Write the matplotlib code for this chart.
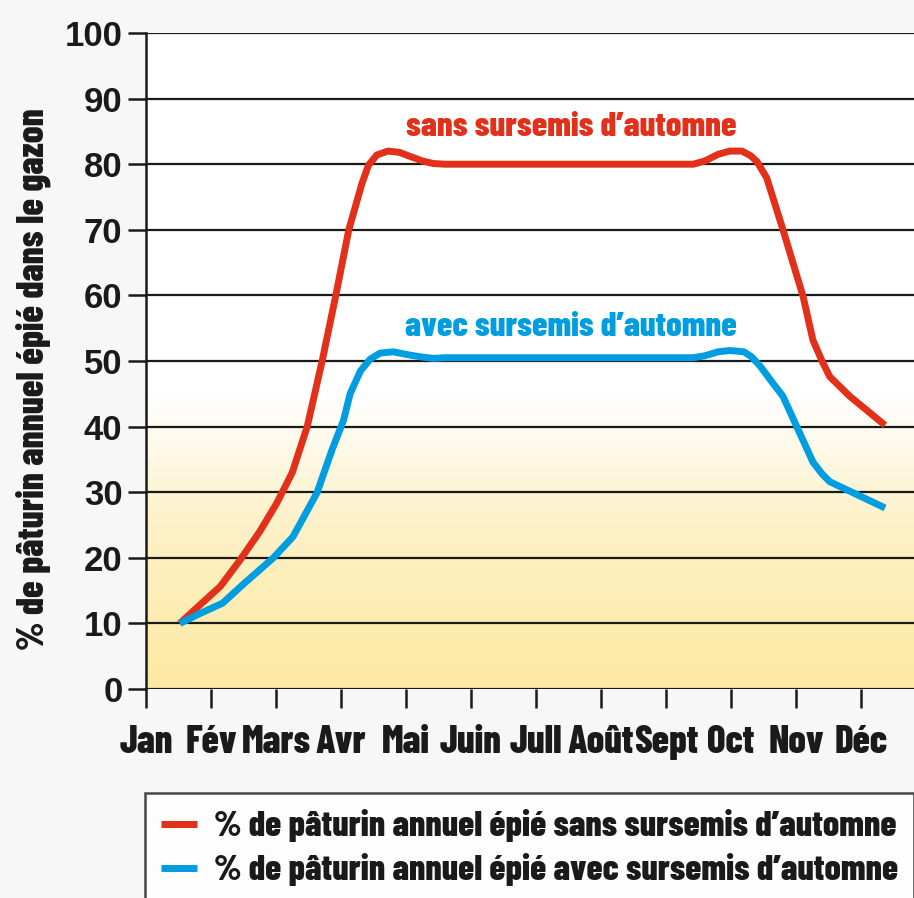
import numpy as np
import matplotlib.pyplot as plt
from matplotlib.colors import LinearSegmentedColormap

# data (x in months from the Jan tick)
months = ['Jan', 'Fév', 'Mars', 'Avr', 'Mai', 'Juin', 'Jull', 'Août', 'Sept', 'Oct', 'Nov', 'Déc']

sans_x = [0.52, 0.85, 1.14, 1.45, 1.75, 2.01, 2.25, 2.48, 2.71, 2.92, 3.12, 3.32,
          3.42, 3.55, 3.72, 3.9, 4.06, 4.25, 4.42, 4.6, 8.42, 8.6, 8.8, 8.98,
          9.17, 9.3, 9.4, 9.55, 9.8, 10.11, 10.26, 10.4, 10.52, 10.83, 11.37]
sans_y = [10, 13, 15.6, 19.7, 24, 28.3, 33, 40, 50, 60, 70, 77,
          79.8, 81.4, 82, 81.8, 81.2, 80.5, 80.1, 80, 80, 80.5, 81.5, 82,
          82, 81.3, 80.4, 77.9, 70, 59.8, 53.2, 50, 47.6, 44.6, 40.2]

avec_x = [0.52, 0.85, 1.18, 1.5, 1.96, 2.26, 2.63, 2.86, 3.04, 3.14, 3.3, 3.45,
          3.6, 3.8, 4.06, 4.25, 4.42, 4.6, 8.42, 8.6, 8.8, 8.98, 9.2, 9.32,
          9.45, 9.6, 9.8, 10.26, 10.4, 10.52, 11.37]
avec_y = [10, 11.6, 13.1, 16, 20, 23.2, 29.9, 36.4, 41, 45, 48.5, 50.3,
          51.2, 51.4, 50.9, 50.6, 50.4, 50.5, 50.5, 50.8, 51.4, 51.6, 51.4, 50.6,
          49.2, 47.2, 44.6, 34.6, 32.8, 31.6, 27.6]

red = '#e2301a'
blue = '#009ee0'
ink = '#1a1a1a'

cond = ['Barlow Condensed', 'Roboto Condensed', 'Fira Sans Condensed', 'Oswald', 'DejaVu Sans']
digits = ['Liberation Sans', 'DejaVu Sans']

fig = plt.figure(figsize=(9.14, 8.98), dpi=100, facecolor='#f7f7f7')
ax = fig.add_axes([146 / 914, 1 - 689 / 898, 1 - 146 / 914, (689 - 33) / 898])
xmax = (914 - 146) / 65.0
ax.set_xlim(0, xmax)
ax.set_ylim(0, 100)

# yellow gradient in the lower part of the plot
bg = LinearSegmentedColormap.from_list('bg', [(0, '#fee9a2'), (0.25, '#fdf1c8'),
                                              (0.45, '#ffffff'), (1, '#ffffff')])
grad = np.linspace(0, 1, 256).reshape(-1, 1)
ax.imshow(grad, extent=[0, xmax, 0, 100], origin='lower', aspect='auto', cmap=bg, zorder=0)

for y in range(0, 101, 10):
    ax.axhline(y, color=ink, lw=1.6, zorder=1)

ax.plot(sans_x, sans_y, color=red, lw=5, solid_joinstyle='round',
        solid_capstyle='butt', zorder=3,
        label='% de pâturin annuel épié sans sursemis d’automne')
ax.plot(avec_x, avec_y, color=blue, lw=5, solid_joinstyle='round',
        solid_capstyle='butt', zorder=3,
        label='% de pâturin annuel épié avec sursemis d’automne')

ax.text(6.54, 85.6, 'sans sursemis d’automne', color=red, fontsize=25, fontweight='heavy',
        family=cond, ha='center', va='center')
ax.text(6.54, 55.2, 'avec sursemis d’automne', color=blue, fontsize=25, fontweight='heavy',
        family=cond, ha='center', va='center')

for s in ['top', 'right', 'bottom']:
    ax.spines[s].set_visible(False)
ax.spines['left'].set_linewidth(1.8)
ax.spines['left'].set_color(ink)

ax.set_yticks(range(0, 101, 10))
ax.set_yticklabels([str(v) for v in range(0, 101, 10)], fontsize=25, fontweight='bold',
                   family=digits, color=ink)
ax.set_xticks(range(12))
ax.set_xticklabels(months, fontsize=28, fontweight='heavy', family=cond, color=ink)
ax.tick_params(axis='y', length=13, width=1.8, color=ink, pad=4)
ax.tick_params(axis='x', length=14, width=1.8, color=ink, pad=12)

ax.set_ylabel('% de pâturin annuel épié dans le gazon', fontsize=27, fontweight='heavy',
              family=cond, color=ink)
ax.yaxis.set_label_coords(-0.124, 0.472)

leg = fig.legend(loc='upper left', bbox_to_anchor=(145 / 914, 1 - 793 / 898),
                 prop={'family': cond, 'weight': 'heavy', 'size': 26},
                 frameon=True, fancybox=False, edgecolor=ink, facecolor='white',
                 handlelength=1.0, handletextpad=0.45, labelspacing=0.31,
                 borderpad=0.45, borderaxespad=0)
leg.get_frame().set_linewidth(1.8)
for t in leg.get_texts():
    t.set_color(ink)

fig.savefig('out.png', dpi=100, facecolor=fig.get_facecolor())
